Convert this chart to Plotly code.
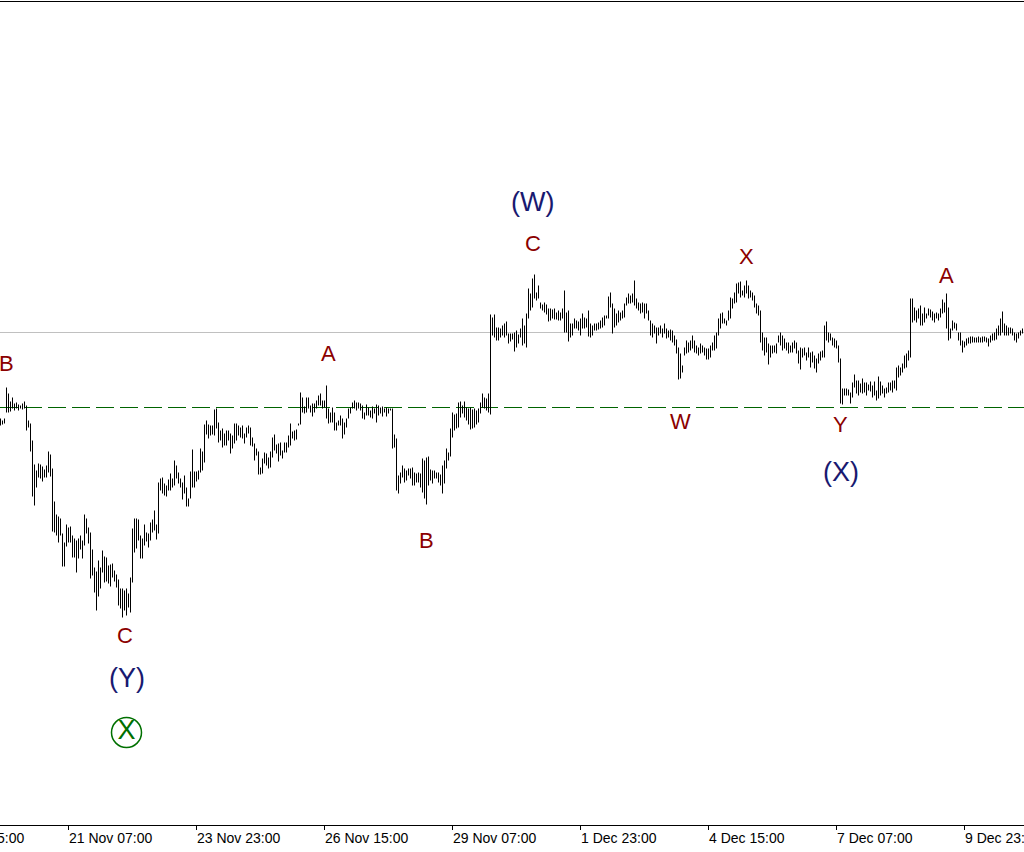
import pandas as pd
import plotly.graph_objects as go

# ---------------- data ----------------
# hourly bars, pips relative to the 1.1800 reference level
BASE_PRICE = 1.1800
FIRST_BAR = "2020-11-19 21:00"

HIGH_PIPS = [
    -11, -13, -11, 20, 14, 6, 10, 4, 5, 3, 2, 4, 6, 2, -13, -16, -33, -57, -63, -56,
    -57, -59, -62, -58, -44, -47, -61, -94, -107, -109, -111, -126, -135, -117, -120, -119, -128, -131, -133, -131,
    -128, -133, -107, -111, -120, -125, -142, -160, -164, -153, -160, -143, -149, -150, -158, -157, -156, -163, -167, -172,
    -181, -181, -183, -181, -186, -170, -121, -111, -111, -112, -128, -131, -117, -125, -126, -115, -112, -103, -117, -75,
    -71, -70, -76, -78, -72, -66, -71, -53, -58, -65, -71, -75, -68, -80, -91, -64, -42, -64, -64, -63,
    -41, -44, -17, -13, -17,
    -18, -18, -2, -1, -15, -23, -21, -26, -23, -23, -26, -28, -16, -16, -18, -20, -18, -26, -20, -18,
    -20, -30, -36, -41, -44, -60, -51, -45, -46, -50, -44, -30, -27, -37, -36, -35, -43, -35, -35, -28,
    -16, -24, -23, -22, -16, 15, 10, 1, 10, 10, 2, 4, 4, 7, 12, 14, 7, 7, 22, -1,
    -5, 0, -5, -15, -13, -8, -11, -15, -11, -1, 0, 5, 7, 5, 5, 4, 2, -5, 3, 0,
    -3, 1, -1, 3, 2, 0, 1, -1, 0, -1, -1, -1, -27, -31, -68, -65, -58, -61, -63, -61,
    -61, -60, -65, -66, -65, -66, -51, -53, -50, -49, -62, -63, -63, -65, -65, -67, -58, -53, -41, -45,
    -21, -5, -7, -6, 5, 6, 2, 6, 0, -1, 0, -2, -1, -3, -1, 5, 14, 10, 9, 14,
    93, 90, 93, 80, 80, 79, 82, 84, 86, 74, 74, 74, 75, 77, 73, 79, 89, 82, 94, 119,
    114, 129, 133, 115, 122, 105, 103, 105, 103, 99, 99, 98, 99, 95, 97, 95, 99, 117, 95, 97,
    84, 84, 89, 87, 86, 89, 94, 90, 89, 97, 84, 82, 84, 84, 85, 87, 90, 92, 92, 111,
    115, 104, 99, 94, 97, 95, 97, 104, 110, 114, 112, 114, 127, 109, 105, 104, 105, 104, 104, 97,
    87, 84, 82, 80, 80, 82, 79, 84, 79, 77, 78, 77, 72, 68, 60, 54, 42, 60, 67, 65,
    67, 72, 67, 62, 60, 64, 62, 60, 59, 59, 62, 65, 72, 75, 89, 94, 95, 89, 87, 97,
    110, 109, 115, 124, 125, 126, 117, 122, 127, 122, 117, 115, 112, 104, 102, 97, 75, 70, 70, 64,
    62, 62, 62, 64, 72, 75, 72, 69, 65, 65, 62, 65, 67, 65, 57, 60, 59, 60, 55, 60,
    55,
    56, 52, 49, 54, 56, 57, 82, 86, 75, 74, 70, 69, 67, 62, 49, 19, 19, 19, 18, 15,
    25, 33, 27, 27, 24, 29, 25, 25, 23, 26, 22, 26, 17, 31, 26, 22, 19, 20, 25, 25,
    27, 27, 40, 42, 40, 44, 52, 54, 57, 109, 109, 100, 97, 99, 102, 94, 100, 94, 99, 98,
    96, 94, 95, 94, 99, 108, 105, 114, 100, 79, 87, 85, 84, 75, 75, 67, 66, 69, 70, 71,
    71, 70, 70, 71, 70, 71, 71, 70, 69, 72, 74, 75, 79, 82, 89, 96, 84, 82, 80, 80,
    79, 75, 74, 75, 77, 79,
]

LOW_PIPS = [
    -18, -17, -16, -5, -5, -4, -1, -3, -1, -3, -1, -2, -1, -23, -20, -44, -89, -98, -80, -70,
    -71, -74, -70, -70, -65, -69, -124, -125, -128, -135, -128, -159, -159, -139, -135, -135, -150, -150, -165, -151,
    -142, -151, -138, -126, -136, -171, -168, -185, -203, -189, -181, -165, -175, -174, -176, -179, -170, -174, -180, -198,
    -201, -210, -203, -208, -200, -205, -175, -145, -141, -133, -151, -151, -138, -134, -140, -133, -125, -123, -132, -126,
    -83, -86, -88, -89, -83, -83, -80, -78, -71, -76, -80, -92, -86, -99, -99, -91, -80, -80, -74, -72,
    -65, -63, -55, -27, -31,
    -28, -27, -28, -21, -35, -33, -40, -38, -38, -33, -46, -41, -36, -33, -28, -30, -31, -36, -30, -26,
    -38, -39, -53, -48, -67, -67, -66, -56, -58, -61, -60, -50, -43, -46, -54, -48, -51, -45, -45, -40,
    -38, -31, -33, -32, -18, -17, -5, -6, -5, -1, -5, -9, -5, -1, 2, 2, -1, 0, -11, -16,
    -15, -15, -23, -23, -18, -18, -31, -27, -20, -11, -6, -1, -1, -3, -1, -3, -11, -12, -8, -8,
    -10, -11, -6, -15, -8, -6, -9, -5, -9, -6, -3, -41, -40, -83, -86, -76, -70, -75, -73, -68,
    -71, -78, -78, -75, -75, -80, -85, -91, -97, -78, -73, -76, -71, -71, -75, -78, -86, -76, -61, -53,
    -49, -30, -23, -21, -20, -10, -6, -10, -13, -17, -22, -21, -20, -17, -15, -6, 0, -1, -3, -5,
    -7, 72, 70, 67, 67, 70, 72, 70, 72, 64, 66, 68, 56, 60, 64, 70, 62, 64, 60, 89,
    97, 100, 109, 107, 109, 99, 97, 95, 93, 86, 87, 89, 88, 88, 87, 87, 89, 75, 75, 66,
    70, 72, 79, 79, 77, 72, 79, 79, 80, 71, 70, 72, 77, 77, 78, 79, 80, 82, 89, 89,
    100, 74, 80, 82, 85, 87, 89, 90, 102, 104, 104, 105, 102, 99, 97, 94, 95, 89, 94, 87,
    72, 70, 74, 64, 72, 74, 70, 74, 69, 70, 67, 65, 62, 54, 28, 29, 35, 52, 54, 55,
    57, 59, 55, 54, 52, 54, 55, 52, 48, 48, 50, 57, 57, 59, 72, 79, 84, 84, 82, 87,
    89, 99, 104, 105, 114, 110, 112, 110, 114, 109, 110, 107, 100, 94, 92, 65, 57, 52, 55, 43,
    50, 54, 55, 54, 65, 62, 57, 59, 57, 54, 55, 55, 59, 54, 44, 38, 50, 52, 47, 50,
    40,
    45, 39, 35, 44, 47, 50, 50, 67, 65, 67, 62, 60, 59, 45, 4, 3, 12, 12, 12, 4,
    10, 20, 14, 12, 15, 14, 15, 12, 17, 16, 10, 12, 7, 9, 12, 14, 10, 14, 15, 17,
    15, 19, 17, 30, 32, 35, 39, 40, 47, 50, 85, 87, 85, 89, 82, 82, 85, 89, 92, 90,
    87, 85, 89, 87, 90, 94, 95, 79, 67, 69, 77, 79, 77, 67, 62, 55, 60, 62, 64, 64,
    65, 65, 65, 65, 65, 65, 66, 65, 61, 65, 67, 67, 68, 72, 72, 75, 72, 72, 72, 74,
    72, 67, 65, 69, 72, 74,
]

# horizontal levels
CURRENT_PRICE = 1.1875
SUPPORT_LEVEL = 1.1800

# time axis labels
TICK_TIMES = ["2020-11-18 15:00", "2020-11-21 07:00", "2020-11-23 23:00", "2020-11-26 15:00",
              "2020-11-29 07:00", "2020-12-01 23:00", "2020-12-04 15:00", "2020-12-07 07:00",
              "2020-12-09 23:00"]
TICK_LABELS = ["18 Nov 15:00", "21 Nov 07:00", "23 Nov 23:00", "26 Nov 15:00", "29 Nov 07:00",
               "1 Dec 23:00", "4 Dec 15:00", "7 Dec 07:00", "9 Dec 23:00"]

# wave labels: (text, bar index, pips vs reference)
MINOR_LABELS = ["B", "A", "B", "C", "C", "W", "X", "Y", "A"]
MINOR_BARS = [3, 164, 213, 62, 266, 340, 373, 420, 473]
MINOR_PIPS = [44, 54, -133, -228, 164, -14, 151, -17, 132]
MAJOR_LABELS = ["(W)", "(Y)", "(X)"]
MAJOR_BARS = [266, 63, 420]
MAJOR_PIPS = [206, -270, -64]
CIRCLE_LABEL = "X"
CIRCLE_BAR = 63
CIRCLE_PIPS = -325

# ---------------- build ----------------
n = len(HIGH_PIPS)
times = pd.date_range(FIRST_BAR, periods=n, freq="h")
high = [BASE_PRICE + v / 10000 for v in HIGH_PIPS]
low = [BASE_PRICE + v / 10000 for v in LOW_PIPS]

xs, ys = [], []
for t, h, l in zip(times, high, low):
    xs += [t, t, None]
    ys += [l, h, None]

x0 = times[0] - pd.Timedelta(minutes=15)
x1 = x0 + pd.Timedelta(hours=512)
y0 = BASE_PRICE - 0.04175
y1 = BASE_PRICE + 0.04055

fig = go.Figure()
fig.add_trace(go.Scatter(x=xs, y=ys, mode="lines", line=dict(color="black", width=1),
                         hoverinfo="skip", showlegend=False))

fig.add_shape(type="line", xref="paper", x0=0, x1=1, yref="y", y0=CURRENT_PRICE, y1=CURRENT_PRICE,
              line=dict(color="#c0c0c0", width=1), layer="below")
fig.add_shape(type="line", xref="paper", x0=0, x1=1, yref="y", y0=SUPPORT_LEVEL, y1=SUPPORT_LEVEL,
              line=dict(color="#006400", width=1, dash="18px,6px"), layer="below")

annotations = []
for txt, b, p in zip(MINOR_LABELS, MINOR_BARS, MINOR_PIPS):
    annotations.append(dict(x=times[b], y=BASE_PRICE + p / 10000, xref="x", yref="y", text=txt,
                            showarrow=False, xanchor="center", yanchor="middle",
                            font=dict(family="Liberation Sans, Arial", size=22, color="#8B0000")))
for txt, b, p in zip(MAJOR_LABELS, MAJOR_BARS, MAJOR_PIPS):
    annotations.append(dict(x=times[b], y=BASE_PRICE + p / 10000, xref="x", yref="y", text=txt,
                            showarrow=False, xanchor="center", yanchor="middle",
                            font=dict(family="Liberation Sans, Arial", size=27, color="#191970")))

fig.add_trace(go.Scatter(x=[times[CIRCLE_BAR]], y=[BASE_PRICE + CIRCLE_PIPS / 10000],
                         mode="markers+text", text=[CIRCLE_LABEL], textposition="middle center",
                         textfont=dict(family="Liberation Sans, Arial", size=27, color="#007000"),
                         marker=dict(symbol="circle-open", size=30, color="#007000",
                                     line=dict(width=1.5, color="#007000")),
                         hoverinfo="skip", showlegend=False))

span = (x1 - x0).total_seconds()
for tt, lab in zip(TICK_TIMES, TICK_LABELS):
    frac = (pd.Timestamp(tt) - x0).total_seconds() / span
    annotations.append(dict(x=frac, y=0, xref="paper", yref="paper", text=lab, showarrow=False,
                            xanchor="left", yanchor="top", yshift=-3, xshift=-2,
                            font=dict(family="Liberation Sans, Arial", size=14, color="black")))

fig.update_layout(
    width=1024, height=852,
    margin=dict(l=0, r=0, t=2, b=27, pad=0),
    paper_bgcolor="white", plot_bgcolor="white",
    annotations=annotations,
    showlegend=False,
)
fig.update_xaxes(type="date", range=[x0, x1], tickvals=TICK_TIMES, showticklabels=False,
                 ticks="outside", ticklen=4, tickcolor="black", tickwidth=1,
                 showline=True, linecolor="black", linewidth=1, mirror=True,
                 showgrid=False, zeroline=False)
fig.update_yaxes(range=[y0, y1], showticklabels=False, showgrid=False, zeroline=False,
                 showline=False, ticks="")

fig.write_html("out.html", config={"displayModeBar": False},
               post_script="document.body.style.margin='0';")
